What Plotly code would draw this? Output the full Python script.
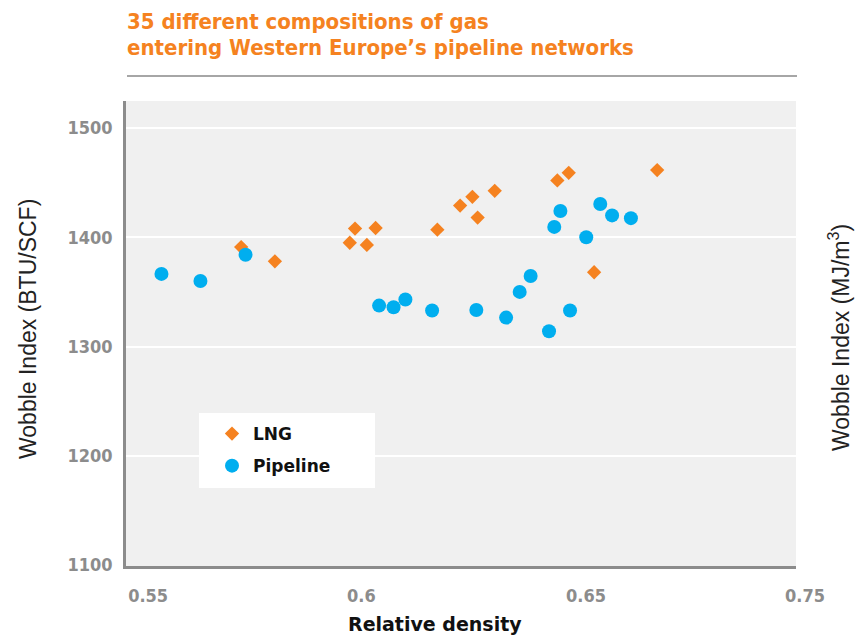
import plotly.graph_objects as go

# Data
lng_density = [0.5761, 0.5838, 0.6009, 0.6021, 0.6048, 0.6068, 0.6209, 0.6261,
               0.6289, 0.6301, 0.6340, 0.6483, 0.6509, 0.6567, 0.6711]
lng_wobbe = [1391, 1378, 1395, 1408, 1393, 1408.5, 1407, 1429,
             1437, 1418, 1442.5, 1452, 1459, 1368, 1461.5]

pipe_density = [0.5579, 0.5668, 0.5771, 0.6076, 0.6109, 0.6136, 0.6197, 0.6298,
                0.6366, 0.6397, 0.6422, 0.6464, 0.6476, 0.6490, 0.6512, 0.6549,
                0.6581, 0.6608, 0.6651]
pipe_wobbe = [1366.5, 1360, 1384, 1337.5, 1336, 1343, 1333, 1333.5,
              1326.5, 1350, 1364.5, 1314, 1409.5, 1424, 1333, 1400,
              1430.5, 1420, 1417.5]

x_tickvals = [0.55, 0.60, 0.65, 0.70]
x_ticktext = ["0.55", "0.6", "0.65", "0.75"]
y_tickvals = [1100, 1200, 1300, 1400, 1500]

title_lines = ["35 different compositions of gas",
               "entering Western Europe’s pipeline networks"]

ORANGE = "#F58220"
BLUE = "#00AEEF"
TICK_GREY = "#8c8c8c"

W, H = 855, 636
ML, MR, MT, MB = 126, 59, 101, 70
PW, PH = W - ML - MR, H - MT - MB


def px_x(p):
    return (p - ML) / PW


def px_y(p):
    return (H - MB - p) / PH


fig = go.Figure()
fig.add_trace(go.Scatter(
    x=lng_density, y=lng_wobbe, mode="markers", name="LNG", legendgroup="lng",
    marker=dict(symbol="diamond", size=11, color=ORANGE, line=dict(width=0)),
))
fig.add_trace(go.Scatter(
    x=pipe_density, y=pipe_wobbe, mode="markers", name="Pipeline", legendgroup="pipe",
    marker=dict(symbol="circle", size=14, color=BLUE, line=dict(width=0)),
))

title_font = dict(family="DejaVu Sans Condensed", size=22, color=ORANGE, weight="bold")

fig.update_layout(
    width=W, height=H,
    margin=dict(l=ML, r=MR, t=MT, b=MB, pad=0),
    paper_bgcolor="white",
    plot_bgcolor="#f0f0f0",
    showlegend=True,
    legend=dict(
        x=px_x(211), y=px_y(416), xanchor="left", yanchor="top",
        bgcolor="rgba(0,0,0,0)",
        font=dict(family="DejaVu Sans", size=17, color="#111111", weight="bold"),
        tracegroupgap=7, traceorder="grouped", itemwidth=32,
    ),
    xaxis=dict(
        range=[0.5498, 0.7028],
        tickvals=x_tickvals, ticktext=x_ticktext,
        ticklabelposition="outside right",
        showgrid=False, zeroline=False,
        showline=True, linecolor="#8c8c8c", linewidth=2.5,
        ticks="", ticklabelstandoff=12,
        tickfont=dict(family="DejaVu Sans Condensed", size=18, color=TICK_GREY, weight="bold"),
        fixedrange=True,
    ),
    yaxis=dict(
        range=[1099.2, 1524.7],
        tickvals=y_tickvals,
        showgrid=True, gridcolor="white", gridwidth=2,
        zeroline=False,
        showline=True, linecolor="#8c8c8c", linewidth=2.5,
        ticks="", ticklabelstandoff=7,
        tickfont=dict(family="DejaVu Sans Condensed", size=18, color=TICK_GREY, weight="bold"),
        fixedrange=True,
    ),
    shapes=[
        dict(type="line", xref="paper", yref="paper", x0=px_x(127), x1=px_x(797),
             y0=px_y(76), y1=px_y(76), line=dict(color="#a6a6a6", width=2)),
        dict(type="rect", xref="paper", yref="paper", x0=px_x(199), x1=px_x(375),
             y0=px_y(488), y1=px_y(413), fillcolor="white", line=dict(width=0), layer="above"),
    ],
    annotations=[
        dict(text=title_lines[0], xref="paper", yref="paper", x=px_x(125), y=px_y(22),
             xanchor="left", yanchor="middle", align="left", showarrow=False,
             font=title_font),
        dict(text=title_lines[1], xref="paper", yref="paper", x=px_x(125), y=px_y(48),
             xanchor="left", yanchor="middle", align="left", showarrow=False,
             font=title_font),
        dict(text="Wobble Index (BTU/SCF)", xref="paper", yref="paper",
             x=px_x(28), y=px_y(329), textangle=-90, showarrow=False,
             xanchor="center", yanchor="middle",
             font=dict(family="Liberation Sans", size=23, color="#222222")),
        dict(text="Wobble Index (MJ/m<sup>3</sup>)", xref="paper", yref="paper",
             x=px_x(839), y=px_y(338), textangle=-90, showarrow=False,
             xanchor="center", yanchor="middle",
             font=dict(family="Liberation Sans", size=23, color="#222222")),
        dict(text="Relative density", xref="paper", yref="paper",
             x=px_x(435), y=px_y(624), showarrow=False,
             xanchor="center", yanchor="middle",
             font=dict(family="DejaVu Sans", size=19, color="#111111", weight="bold")),
    ],
)

fig.write_html("out.html", config={"displayModeBar": False},
               post_script="document.body.style.margin='0px';")
